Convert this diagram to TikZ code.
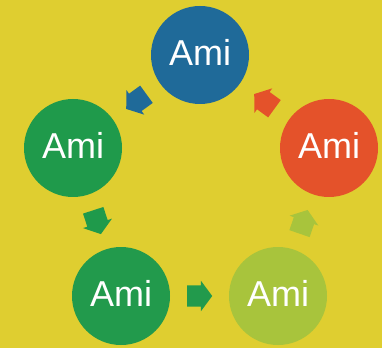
\documentclass[tikz,border=0pt]{standalone}
\usepackage{fontspec}
\setmainfont{Liberation Sans}
\usetikzlibrary{shapes.arrows,calc}
\definecolor{bgyellow}{HTML}{DFCE30}
\definecolor{cblue}{HTML}{1F6A99}
\definecolor{cgreen}{HTML}{1F9A4B}
\definecolor{cgreenb}{HTML}{229A4C}
\definecolor{clight}{HTML}{A8C43C}
\definecolor{corange}{HTML}{E4522A}
\tikzset{
  ami/.style={circle, minimum size=98pt, inner sep=0pt, text=white, text depth=6pt,
    font=\fontsize{36}{36}\selectfont},
  blockarrow/.style={single arrow, draw=none, inner xsep=0pt, inner ysep=10.5pt,
    minimum height=25pt, single arrow head extend=4.5pt, single arrow tip angle=107,
    anchor=tail}
}
\begin{document}
\begin{tikzpicture}
\fill[bgyellow] (0,0) rectangle (382pt,348pt);
\useasboundingbox (0,0) rectangle (382pt,348pt);
\node[ami, fill=cblue]   (top) at (200pt,293pt) {Ami};
\node[ami, fill=cgreen]  (left) at (73pt,200pt) {Ami};
\node[ami, fill=corange] (right) at (329pt,200pt) {Ami};
\node[ami, fill=cgreenb] (bl) at (121pt,52pt) {Ami};
\node[ami, fill=clight]  (br) at (278pt,52pt) {Ami};
\node[blockarrow, fill=cblue, rotate=216] (a1) at ($(top)!0.5!(left) + (36:12.5pt)$) {};
\node[blockarrow, fill=cgreen, rotate=-72] (a2) at ($(left)!0.5!(bl) + (108:12.5pt)$) {};
\node[blockarrow, fill=cgreenb, rotate=0] (a3) at ($(bl)!0.5!(br) + (180:12.5pt)$) {};
\node[blockarrow, fill=clight, rotate=71] (a4) at ($(br)!0.5!(right) + (251:12.5pt)$) {};
\node[blockarrow, fill=corange, rotate=144] (a5) at ($(right)!0.5!(top) + (324:12.5pt)$) {};
\end{tikzpicture}
\end{document}
